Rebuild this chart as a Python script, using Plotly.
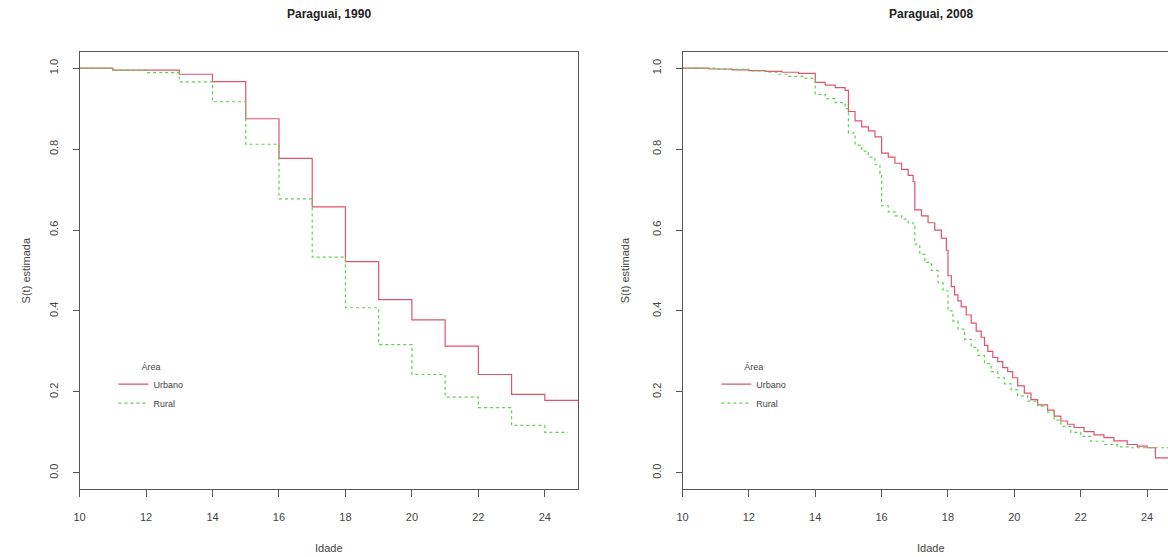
import plotly.graph_objects as go

# ---------------- data ----------------
# Paraguai, 1990 - Kaplan-Meier estimates by area
age_urb_1990 = [10, 11, 13, 14, 15, 16, 17, 18, 19, 20, 21, 22, 23, 24, 25]
s_urb_1990 = [1.0, 0.995, 0.985, 0.967, 0.875, 0.777, 0.657, 0.522, 0.428,
              0.378, 0.313, 0.243, 0.194, 0.179, 0.179]

age_rur_1990 = [10, 11, 12, 13, 14, 15, 16, 17, 18, 19, 20, 21, 22, 23, 24, 24.7]
s_rur_1990 = [1.0, 0.995, 0.989, 0.966, 0.917, 0.812, 0.677, 0.533, 0.408,
              0.317, 0.243, 0.187, 0.161, 0.117, 0.100, 0.100]

# Paraguai, 2008
age_urb_2008 = [10.0, 10.8, 11.5, 12.0, 12.5, 13.0, 13.5, 14.0, 14.3, 14.6, 14.9,
                15.0, 15.2, 15.4, 15.6, 15.8, 16.0, 16.2, 16.4, 16.6, 16.8, 16.95,
                17.0, 17.2, 17.4, 17.6, 17.8, 17.95, 18.0, 18.1, 18.2, 18.3, 18.4,
                18.55, 18.7, 18.85, 19.0, 19.1, 19.2, 19.35, 19.5, 19.65, 19.8,
                19.95, 20.1, 20.3, 20.5, 20.7, 21.0, 21.2, 21.4, 21.6, 21.8, 22.1,
                22.4, 22.7, 23.0, 23.4, 23.7, 24.0, 24.25, 25.0]
s_urb_2008 = [1.0, 0.998, 0.996, 0.994, 0.992, 0.990, 0.987, 0.965, 0.958, 0.952,
              0.945, 0.893, 0.870, 0.855, 0.845, 0.830, 0.790, 0.780, 0.765, 0.750,
              0.735, 0.720, 0.650, 0.635, 0.618, 0.600, 0.580, 0.550, 0.487, 0.460,
              0.440, 0.425, 0.410, 0.390, 0.370, 0.350, 0.335, 0.315, 0.300, 0.285,
              0.275, 0.260, 0.250, 0.235, 0.215, 0.197, 0.181, 0.168, 0.155, 0.140,
              0.128, 0.120, 0.112, 0.102, 0.094, 0.087, 0.079, 0.070, 0.066, 0.062,
              0.037, 0.037]

age_rur_2008 = [10.0, 11.0, 12.0, 12.5, 12.9, 13.2, 13.7, 14.0, 14.3, 14.6, 14.9,
                15.0, 15.2, 15.4, 15.6, 15.8, 15.95, 16.0, 16.2, 16.4, 16.6, 16.8,
                16.95, 17.0, 17.15, 17.3, 17.5, 17.7, 17.85, 18.0, 18.15, 18.3, 18.5,
                18.7, 18.9, 19.1, 19.3, 19.5, 19.7, 19.9, 20.1, 20.4, 20.7, 21.0,
                21.2, 21.4, 21.7, 22.0, 22.3, 22.7, 23.1, 23.5, 25.0]
s_rur_2008 = [1.0, 0.997, 0.993, 0.990, 0.985, 0.980, 0.975, 0.935, 0.925, 0.915,
              0.900, 0.840, 0.810, 0.795, 0.780, 0.762, 0.740, 0.660, 0.645, 0.635,
              0.627, 0.618, 0.610, 0.565, 0.540, 0.520, 0.500, 0.470, 0.450, 0.400,
              0.375, 0.355, 0.330, 0.310, 0.290, 0.270, 0.250, 0.235, 0.220, 0.205,
              0.190, 0.177, 0.165, 0.150, 0.130, 0.115, 0.100, 0.090, 0.078, 0.070,
              0.064, 0.062, 0.062]

titles = ["Paraguai, 1990", "Paraguai, 2008"]
series_names = ["Urbano", "Rural"]
legend_title = "Área"
x_label = "Idade"
y_label = "S(t) estimada"
x_ticks = [10, 12, 14, 16, 18, 20, 22, 24]
y_ticks = [0.0, 0.2, 0.4, 0.6, 0.8, 1.0]

# ---------------- styling ----------------
W, H = 1168, 557
RED = "#DF536B"
GREEN = "#61D04F"
AXIS = "#555555"
TXT = "#444444"
FONT = "Liberation Sans, Arial, sans-serif"


def px(xp):   # pixel x -> paper fraction
    return xp / W


def py(yp):   # pixel y (from top) -> paper fraction
    return 1 - yp / H


box_top, box_bot = 52, 489
left_x0, left_x1 = 74, 575
right_x0 = 680
px_per_year = (1147 - 680) / 14.0
right_xmax = 10 + (W - right_x0) / px_per_year

ydom = [py(box_bot), py(box_top)]

fig = go.Figure()

panels = [
    ("x", "y", "legend", age_urb_1990, s_urb_1990, age_rur_1990, s_rur_1990),
    ("x2", "y2", "legend2", age_urb_2008, s_urb_2008, age_rur_2008, s_rur_2008),
]
for xa, ya, lg, au, su, ar, sr in panels:
    fig.add_trace(go.Scatter(x=au, y=su, mode="lines", line_shape="hv",
                             line=dict(color=RED, width=1.2),
                             name=series_names[0], xaxis=xa, yaxis=ya, legend=lg))
    fig.add_trace(go.Scatter(x=ar, y=sr, mode="lines", line_shape="hv",
                             line=dict(color=GREEN, width=1.2, dash="3px,3px"),
                             name=series_names[1], xaxis=xa, yaxis=ya, legend=lg))

common_x = dict(showgrid=False, zeroline=False, showline=True, linecolor=AXIS,
                linewidth=1, ticks="outside", ticklen=7, tickcolor=AXIS,
                tickvals=x_ticks, tickfont=dict(family=FONT, size=11, color=TXT),
                ticklabelstandoff=11, fixedrange=True)
common_y = dict(showgrid=False, zeroline=False, showline=True, linecolor=AXIS,
                linewidth=1, ticks="outside", ticklen=6, tickcolor=AXIS,
                tickvals=y_ticks, tickformat=".1f", tickangle=-90,
                tickfont=dict(family=FONT, size=11, color=TXT),
                ticklabelstandoff=10, range=[-0.04, 1.04], domain=ydom, fixedrange=True)

legend_common = dict(font=dict(family=FONT, size=9, color=TXT),
                     bgcolor="rgba(0,0,0,0)", borderwidth=0,
                     title=dict(text=legend_title, side="top center",
                                font=dict(family=FONT, size=9, color=TXT)),
                     xanchor="left", yanchor="top", itemwidth=30,
                     tracegroupgap=0)

fig.update_layout(
    width=W, height=H,
    margin=dict(l=0, r=0, t=0, b=0),
    paper_bgcolor="white", plot_bgcolor="white",
    font=dict(family=FONT, color=TXT),
    xaxis=dict(common_x, domain=[px(left_x0), px(left_x1)], range=[10, 25],
               anchor="y", mirror=True),
    yaxis=dict(common_y, anchor="x", mirror=True),
    xaxis2=dict(common_x, domain=[px(right_x0), 1.0], range=[10, right_xmax],
                anchor="y2", mirror=True),
    yaxis2=dict(common_y, anchor="x2", mirror=False),
    legend=dict(legend_common, x=px(108), y=py(358)),
    legend2=dict(legend_common, x=px(714), y=py(358)),
    showlegend=True,
)

annotations = []
centers = [(left_x0 + left_x1) / 2, (right_x0 + right_x0 + 15 * px_per_year) / 2]
for cx, t in zip(centers, titles):
    annotations.append(dict(text=f"<b>{t}</b>", x=px(cx), y=py(14),
                            xref="paper", yref="paper", showarrow=False,
                            xanchor="center", yanchor="middle",
                            font=dict(family=FONT, size=12, color="#222222")))
    annotations.append(dict(text=x_label, x=px(cx), y=py(548),
                            xref="paper", yref="paper", showarrow=False,
                            xanchor="center", yanchor="middle",
                            font=dict(family=FONT, size=11, color=TXT)))
for lx in [20, 622]:
    annotations.append(dict(text=y_label, x=px(lx), y=py((box_top + box_bot) / 2),
                            xref="paper", yref="paper", showarrow=False,
                            textangle=-90, xanchor="center", yanchor="middle",
                            font=dict(family=FONT, size=11, color=TXT)))
fig.update_layout(annotations=annotations)

# remove the default 8px page margin so the 1168x557 figure fills the window
fig.write_html("out.html",
               config={"displayModeBar": False},
               post_script="document.body.style.margin='0px';")
